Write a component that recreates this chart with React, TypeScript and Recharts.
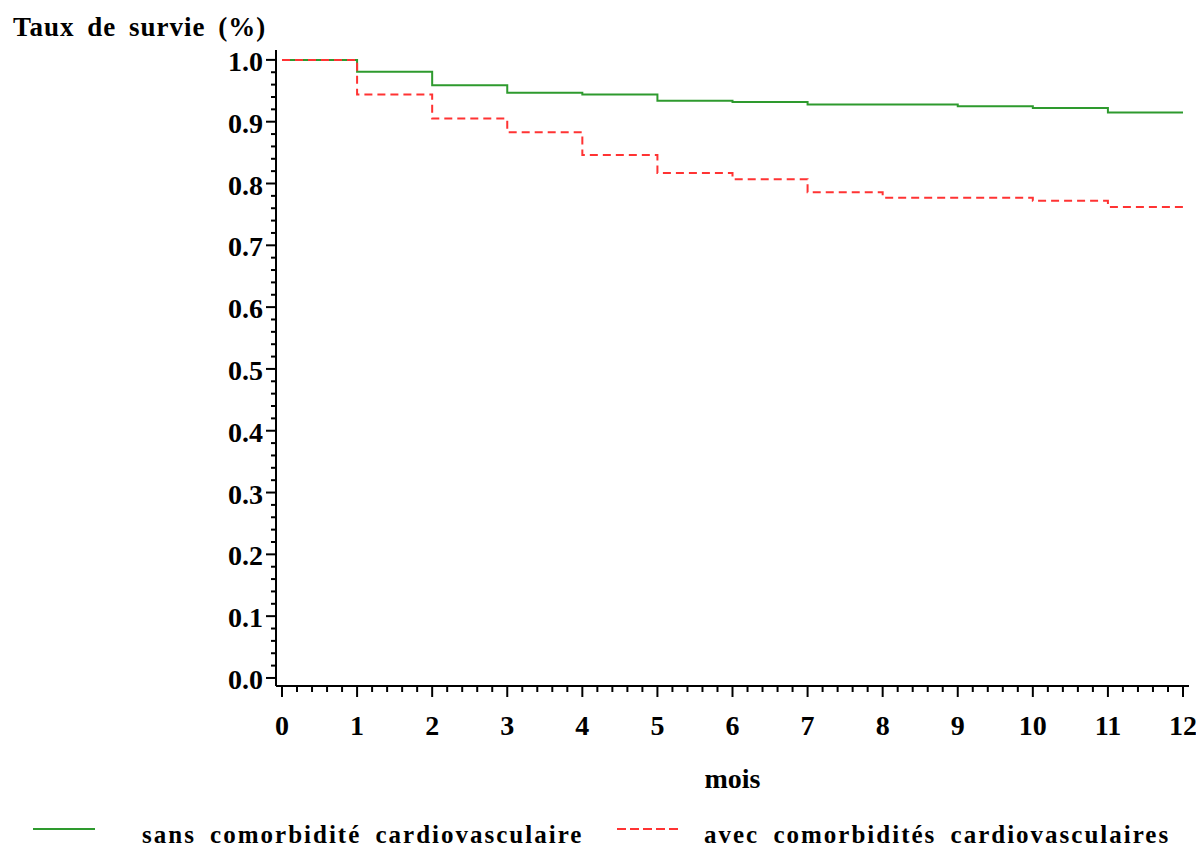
import { LineChart, Line, XAxis, YAxis, Legend } from 'recharts'

const months = [0, 1, 2, 3, 4, 5, 6, 7, 8, 9, 10, 11, 12]
const sansValues = [1.0, 0.981, 0.959, 0.947, 0.944, 0.934, 0.932, 0.928, 0.928, 0.925, 0.922, 0.915, 0.915]
const avecValues = [1.0, 0.944, 0.905, 0.883, 0.846, 0.817, 0.807, 0.786, 0.777, 0.777, 0.772, 0.762, 0.755]
const xTickLabels = [0, 1, 2, 3, 4, 5, 6, 7, 8, 9, 10, 11, 12]
const yTickLabels = [0, 0.1, 0.2, 0.3, 0.4, 0.5, 0.6, 0.7, 0.8, 0.9, 1.0]

const FONT = '"Liberation Serif", "Times New Roman", serif'
const GREEN = '#2e9a2e'
const RED = '#ff3333'

const data = months.map((m, i) => ({ mois: m, sans: sansValues[i], avec: avecValues[i] }))

// minor ticks between the labelled ones
function subdivide(majors: number[], parts: number) {
  const out: number[] = []
  majors.forEach((v, i) => {
    out.push(v)
    if (i < majors.length - 1) {
      const step = (majors[i + 1] - v) / parts
      for (let k = 1; k < parts; k++) out.push(v + step * k)
    }
  })
  return out
}

const xTicks = subdivide(xTickLabels, 5)
const yTicks = subdivide(yTickLabels, 5)

function XTick({ x, y, payload }: any) {
  const v = payload.value
  const major = Math.abs(v - Math.round(v)) < 1e-6
  return (
    <g>
      <line x1={x} x2={x} y1={y} y2={y + (major ? 11 : 6)} stroke="#000" strokeWidth={2} />
      {major && (
        <text x={x} y={y + 49} textAnchor="middle" fontFamily={FONT} fontWeight="bold" fontSize={28} fill="#000">
          {Math.round(v)}
        </text>
      )}
    </g>
  )
}

function YTick({ x, y, payload }: any) {
  const v = payload.value
  const major = Math.abs(v * 10 - Math.round(v * 10)) < 1e-6
  return (
    <g>
      <line x1={x - (major ? 10 : 5)} x2={x} y1={y} y2={y} stroke="#000" strokeWidth={2} />
      {major && (
        <text x={x - 13} y={y + 11} textAnchor="end" fontFamily={FONT} fontWeight="bold" fontSize={28} fill="#000">
          {v.toFixed(1)}
        </text>
      )}
    </g>
  )
}

function TitleLabel({ viewBox }: any) {
  return (
    <text
      x={viewBox.x - 203}
      y={viewBox.y - 14}
      fontFamily={FONT}
      fontWeight="bold"
      fontSize={27}
      letterSpacing={1}
      wordSpacing={5}
      fill="#000"
    >
      Taux de survie (%)
    </text>
  )
}

function MoisLabel({ viewBox }: any) {
  return (
    <text
      x={viewBox.x + viewBox.width / 2}
      y={viewBox.y + 102}
      textAnchor="middle"
      fontFamily={FONT}
      fontWeight="bold"
      fontSize={28}
      fill="#000"
    >
      mois
    </text>
  )
}

const legendSpots: Record<string, { line: number; text: number }> = {
  sans: { line: 33, text: 142 },
  avec: { line: 617, text: 704 },
}

function LegendContent({ payload }: any) {
  return (
    <div style={{ width: 1196, height: 30 }}>
      <svg width={1196} height={30} style={{ display: 'block' }}>
        {(payload || []).map((entry: any) => {
          const spot = legendSpots[entry.dataKey]
          if (!spot) return null
          return (
            <g key={entry.dataKey}>
              <line
                x1={spot.line}
                x2={spot.line + 62}
                y1={12}
                y2={12}
                stroke={entry.color}
                strokeWidth={2}
                strokeDasharray={entry.payload?.strokeDasharray ? '9 4' : undefined}
              />
              <text
                x={spot.text}
                y={26}
                fontFamily={FONT}
                fontWeight="bold"
                fontSize={25}
                letterSpacing={2}
                wordSpacing={6}
                fill="#000"
              >
                {entry.value}
              </text>
            </g>
          )
        })}
      </svg>
    </div>
  )
}

export default function App() {
  return (
    <>
      <style>{'html, body { margin: 0; padding: 0; overflow: hidden; }'}</style>
      <LineChart width={1196} height={847} data={data} margin={{ top: 50, right: 7, left: 216, bottom: 0 }}>
        <XAxis
          dataKey="mois"
          type="number"
          domain={[-0.08, 12.08]}
          allowDataOverflow
          ticks={xTicks}
          interval={0}
          tick={<XTick />}
          tickLine={false}
          tickSize={0}
          tickMargin={0}
          axisLine={{ stroke: '#000', strokeWidth: 2 }}
          height={131}
          label={{ content: MoisLabel }}
        />
        <YAxis
          type="number"
          domain={[-0.013, 1.016]}
          allowDataOverflow
          ticks={yTicks}
          interval={0}
          tick={<YTick />}
          tickLine={false}
          tickSize={0}
          tickMargin={0}
          axisLine={{ stroke: '#000', strokeWidth: 2 }}
          width={60}
          label={{ content: TitleLabel }}
        />
        <Line
          type="stepAfter"
          dataKey="sans"
          name="sans comorbidité cardiovasculaire"
          stroke={GREEN}
          strokeWidth={2}
          dot={false}
          activeDot={false}
          isAnimationActive={false}
        />
        <Line
          type="stepAfter"
          dataKey="avec"
          name="avec comorbidités cardiovasculaires"
          stroke={RED}
          strokeWidth={2}
          strokeDasharray="8 5"
          dot={false}
          activeDot={false}
          isAnimationActive={false}
        />
        <Legend
          verticalAlign="bottom"
          content={<LegendContent />}
          wrapperStyle={{ left: 0, width: 1196 }}
        />
      </LineChart>
    </>
  )
}
